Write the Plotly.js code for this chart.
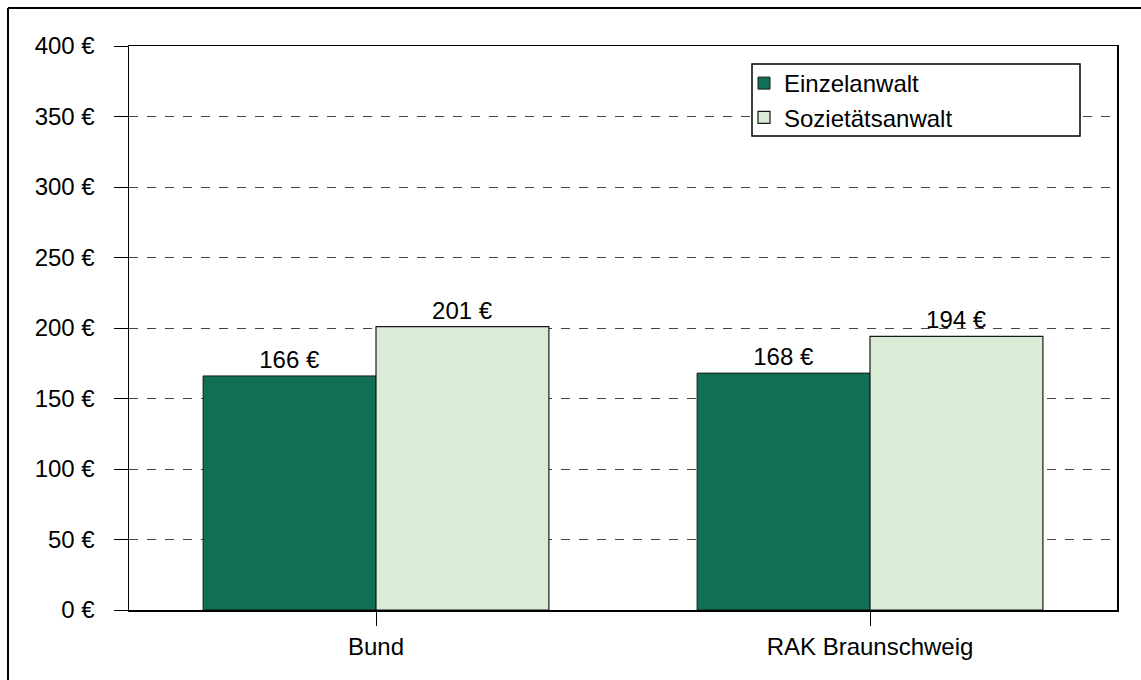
<!DOCTYPE html>
<html>
<head>
<meta charset="utf-8">
<script src="https://cdn.plot.ly/plotly-3.0.1.min.js"></script>
<style>
html,body{margin:0;padding:0;background:#fff;}
#chart{width:1141px;height:680px;}
</style>
</head>
<body>
<div id="chart"></div>
<script>
var categories = ["Bund", "RAK Braunschweig"];
var einzelanwalt = [166, 168];
var sozietaetsanwalt = [201, 194];
var seriesNames = ["Einzelanwalt", "Sozietätsanwalt"];
var yTicks = [0, 50, 100, 150, 200, 250, 300, 350, 400];
var yTickLabels = ["0 €", "50 €", "100 €", "150 €", "200 €", "250 €", "300 €", "350 €", "400 €"];

var fontFam = "Liberation Sans, Arial, sans-serif";
var FS = 24;

var traces = [
  {
    type: "bar", name: seriesNames[0], x: categories, y: einzelanwalt,
    marker: {color: "#116F55", line: {color: "#1a1a1a", width: 1}},
    text: einzelanwalt.map(function(v){return v + " €";}),
    textposition: "outside", cliponaxis: false,
    textfont: {family: fontFam, size: FS, color: "#000"},
    legendgroup: "a", hoverinfo: "none"
  },
  {
    type: "bar", name: seriesNames[1], x: categories, y: sozietaetsanwalt,
    marker: {color: "#DAEBD6", line: {color: "#1a1a1a", width: 1.2}},
    text: sozietaetsanwalt.map(function(v){return v + " €";}),
    textposition: "outside", cliponaxis: false,
    textfont: {family: fontFam, size: FS, color: "#000"},
    legendgroup: "b", hoverinfo: "none"
  }
];

var L = 129, R = 1117, T = 46, B = 610;
var W = R - L, H = B - T;
function px(x){ return (x - L) / W; }
function py(y){ return 1 - (y - T) / H; }

var layout = {
  width: 1141, height: 680,
  margin: {l: L, r: 1141 - R, t: T, b: 680 - B},
  paper_bgcolor: "#fff", plot_bgcolor: "#fff",
  font: {family: fontFam, size: FS, color: "#000"},
  barmode: "group", bargap: 0.3, bargroupgap: 0,
  showlegend: true,
  legend: {
    x: px(744), y: py(61), xanchor: "left", yanchor: "top",
    bgcolor: "rgba(0,0,0,0)", borderwidth: 0,
    font: {family: fontFam, size: FS, color: "#000"},
    traceorder: "grouped", tracegroupgap: 0
  },
  xaxis: {
    type: "category", showgrid: false, zeroline: false,
    showline: true, linecolor: "#000", linewidth: 1.5, mirror: true,
    ticks: "outside", ticklen: 14, tickcolor: "#000", tickwidth: 1,
    ticklabelstandoff: 1,
    tickfont: {family: fontFam, size: FS, color: "#000"},
    fixedrange: true
  },
  yaxis: {
    range: [0, 400], tickvals: yTicks, ticktext: yTickLabels,
    showgrid: true, gridcolor: "#444", griddash: "dash", gridwidth: 1,
    zeroline: false,
    showline: true, linecolor: "#000", linewidth: 1.5, mirror: true,
    ticks: "outside", ticklen: 14, tickcolor: "#000", tickwidth: 1,
    ticklabelstandoff: 14,
    tickfont: {family: fontFam, size: FS, color: "#000"},
    fixedrange: true
  },
  shapes: [
    {type: "rect", xref: "paper", yref: "paper", x0: px(752), x1: px(1080), y0: py(136), y1: py(64),
     fillcolor: "#fff", line: {color: "#000", width: 1.5}, layer: "above"},
    {type: "line", xref: "paper", yref: "paper", x0: px(8), x1: px(1145), y0: py(8), y1: py(8), line: {color: "#000", width: 2}},
    {type: "line", xref: "paper", yref: "paper", x0: px(8), x1: px(8), y0: py(8), y1: py(690), line: {color: "#000", width: 2}}
  ]
};

Plotly.newPlot("chart", traces, layout, {displayModeBar: false, staticPlot: true});
</script>
</body>
</html>
